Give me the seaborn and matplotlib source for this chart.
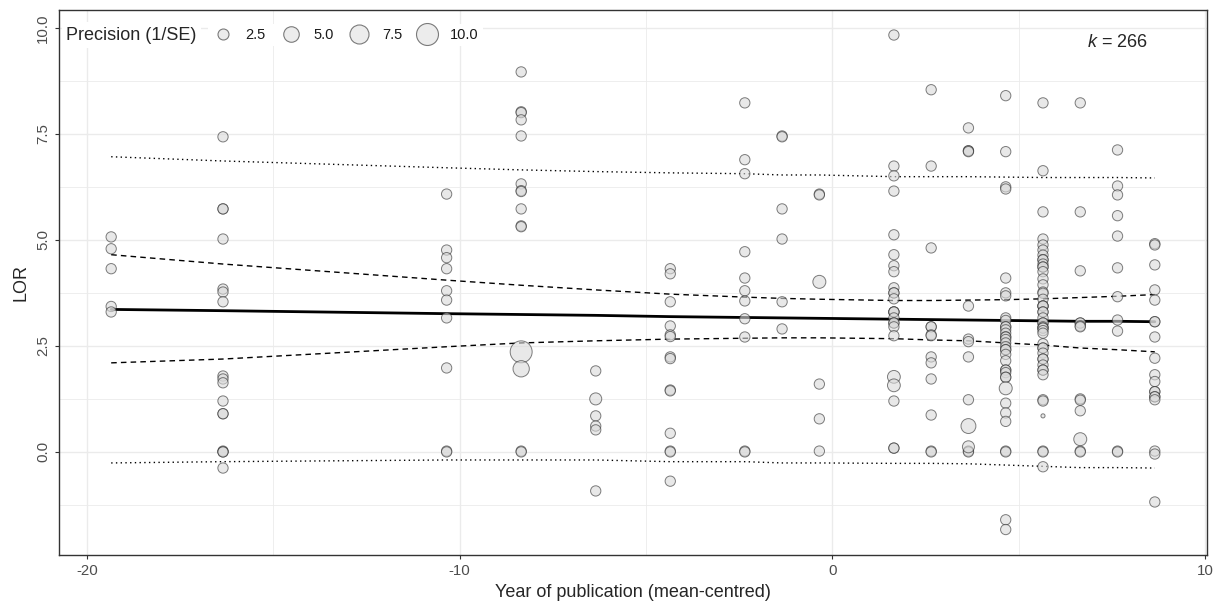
import pandas as pd
import seaborn as sns
import matplotlib.pyplot as plt
from matplotlib.lines import Line2D

# year of publication (mean-centred) of the studies
years = [-19.35, -16.35, -10.35, -8.35, -6.35, -4.35, -2.35, -1.35, -0.35,
         1.65, 2.65, 3.65, 4.65, 5.65, 6.65, 7.65, 8.65]

# LOR of the studies in each year (usual precision)
lor_by_year = [
    [5.07, 4.79, 4.32, 3.43, 3.30],
    [7.43, 5.73, 5.73, 5.02, 3.84, 3.77, 3.54, 1.79, 1.72, 1.63, 1.20, 0.90, 0.90,
     0.02, 0.00, 0.00, -0.38],
    [6.08, 4.76, 4.58, 4.32, 3.80, 3.58, 3.16, 1.98, 0.02, 0.00],
    [8.96, 8.02, 8.00, 7.83, 7.45, 6.32, 6.16, 6.14, 5.73, 5.33, 5.31, 0.02, 0.00],
    [1.91, 0.85, 0.61, 0.52, -0.92],
    [4.32, 4.20, 3.54, 2.97, 2.76, 2.72, 2.24, 2.20, 1.46, 1.44, 0.44, 0.02, 0.00, -0.69],
    [8.23, 6.89, 6.56, 4.72, 4.10, 3.80, 3.56, 3.14, 2.71, 0.02, 0.00],
    [7.45, 7.43, 5.73, 5.02, 3.54, 2.90],
    [6.08, 6.06, 1.60, 0.78, 0.02],
    [9.83, 6.74, 6.51, 6.15, 5.12, 4.65, 4.39, 4.25, 3.87, 3.75, 3.75, 3.61, 3.30,
     3.30, 3.30, 3.16, 3.04, 3.04, 2.95, 2.74, 1.20, 0.09, 0.09],
    [8.54, 6.74, 4.81, 2.95, 2.95, 2.76, 2.74, 2.24, 2.10, 1.72, 0.87, 0.02, 0.00],
    [7.64, 7.10, 7.10, 7.08, 3.44, 2.66, 2.60, 2.24, 1.23, 0.02, 0.00],
    [8.40, 7.08, 6.25, 6.20, 4.10, 3.75, 3.68, 3.16, 3.10, 2.95, 2.95, 2.88, 2.80,
     2.71, 2.71, 2.65, 2.57, 2.48, 2.41, 2.41, 2.30, 2.15, 1.93, 1.93, 1.87, 1.76,
     1.76, 1.15, 0.92, 0.72, 0.02, 0.00, -1.60, -1.83],
    [8.23, 6.63, 5.66, 5.02, 4.88, 4.76, 4.64, 4.53, 4.53, 4.43, 4.36, 4.36, 4.25,
     4.08, 3.94, 3.77, 3.74, 3.60, 3.44, 3.44, 3.44, 3.30, 3.30, 3.16, 3.04, 3.04,
     2.95, 2.92, 2.92, 2.86, 2.80, 2.55, 2.45, 2.45, 2.33, 2.19, 2.19, 2.05, 1.93,
     1.93, 1.82, 1.23, 1.20, 0.02, 0.00, -0.35],
    [8.23, 5.66, 4.27, 3.04, 3.04, 2.97, 2.95, 1.25, 1.22, 0.97, 0.02, 0.00],
    [7.12, 6.27, 6.06, 5.57, 5.09, 4.34, 3.66, 3.11, 2.85, 0.02, 0.00],
    [4.91, 4.88, 4.41, 3.82, 3.58, 3.07, 3.07, 2.71, 2.21, 1.82, 1.66, 1.42, 1.42,
     1.30, 1.30, 1.23, 0.02, -0.05, -1.18],
]
typical_prec = 2.2

# studies drawn with a different precision
sized_year = [-8.35, -8.35, -6.35, -0.35, 1.65, 1.65, 3.65, 3.65, 4.65, 5.65, 6.65]
sized_lor = [2.36, 1.96, 1.25, 4.01, 1.77, 1.57, 0.61, 0.12, 1.50, 0.85, 0.30]
sized_prec = [10.0, 5.5, 3.0, 3.5, 3.4, 3.4, 4.6, 3.0, 3.5, 0.35, 3.5]

# meta-regression fit, confidence and prediction bands at each year
fit_mean = [3.36, 3.33, 3.26, 3.24, 3.22, 3.19, 3.17, 3.16, 3.15,
            3.13, 3.12, 3.11, 3.10, 3.09, 3.08, 3.08, 3.07]
ci_upper = [4.65, 4.43, 4.05, 3.93, 3.82, 3.72, 3.65, 3.62, 3.60,
            3.57, 3.57, 3.58, 3.59, 3.61, 3.64, 3.67, 3.71]
ci_lower = [2.10, 2.19, 2.48, 2.57, 2.62, 2.66, 2.68, 2.69, 2.69,
            2.67, 2.64, 2.62, 2.57, 2.52, 2.45, 2.41, 2.36]
pi_upper = [6.96, 6.86, 6.70, 6.65, 6.61, 6.58, 6.56, 6.53, 6.53,
            6.49, 6.49, 6.49, 6.48, 6.47, 6.47, 6.47, 6.46]
pi_lower = [-0.26, -0.23, -0.19, -0.19, -0.19, -0.23, -0.23, -0.26, -0.26,
            -0.27, -0.27, -0.28, -0.31, -0.34, -0.37, -0.37, -0.38]

size_breaks = [2.5, 5.0, 7.5, 10.0]
k_studies = 266

rows = []
for yr, vals in zip(years, lor_by_year):
    for v in vals:
        rows.append((yr, v, typical_prec))
for yr, v, p in zip(sized_year, sized_lor, sized_prec):
    rows.append((yr, v, p))
df = pd.DataFrame(rows, columns=['year', 'lor', 'prec'])

sns.set_style('ticks')
plt.rcParams['font.family'] = ['Liberation Sans', 'DejaVu Sans']
plt.rcParams['mathtext.fontset'] = 'custom'
plt.rcParams['mathtext.it'] = 'Liberation Sans:italic'
plt.rcParams['mathtext.rm'] = 'Liberation Sans'

fig = plt.figure(figsize=(12.24, 6.06), dpi=100)
ax = fig.add_axes([0.0482, 0.0842, 0.9379, 0.8993])

# bands and fitted line
sns.lineplot(x=years, y=pi_upper, color='black', linewidth=1.0, linestyle=(0, (1, 2.4)), ax=ax)
sns.lineplot(x=years, y=pi_lower, color='black', linewidth=1.0, linestyle=(0, (1, 2.4)), ax=ax)
sns.lineplot(x=years, y=ci_upper, color='black', linewidth=1.0, linestyle=(0, (4, 3)), ax=ax)
sns.lineplot(x=years, y=ci_lower, color='black', linewidth=1.0, linestyle=(0, (4, 3)), ax=ax)
sns.lineplot(x=years, y=fit_mean, color='black', linewidth=2.0, ax=ax)

# studies
sns.scatterplot(data=df, x='year', y='lor', size='prec', sizes=(0, 250), size_norm=(0, 10),
                color='#dadada', edgecolor='#2a2a2a', linewidth=0.7, alpha=0.6,
                legend=False, ax=ax, zorder=3)

ax.set_xlim(-20.75, 10.05)
ax.set_ylim(-2.43, 10.42)
ax.set_xticks([-20, -10, 0, 10])
ax.set_xticklabels(['-20', '-10', '0', '10'])
ax.set_xticks([-15, -5, 5], minor=True)
ax.set_yticks([0, 2.5, 5, 7.5, 10])
ax.set_yticklabels(['0.0', '2.5', '5.0', '7.5', '10.0'])
ax.set_yticks([-1.25, 1.25, 3.75, 6.25, 8.75], minor=True)
ax.grid(which='major', color='#ebebeb', linewidth=1.0, zorder=0)
ax.grid(which='minor', color='#ebebeb', linewidth=0.6, zorder=0)
ax.set_axisbelow(True)

for sp in ax.spines.values():
    sp.set_visible(True)
    sp.set_color('#333333')
    sp.set_linewidth(1.0)
ax.tick_params(which='major', length=3, width=0.8, color='#333333',
               labelsize=10.8, labelcolor='#4d4d4d', pad=3.5)
ax.tick_params(which='minor', length=0)
ax.tick_params(axis='y', labelrotation=90)
for lab in ax.get_yticklabels():
    lab.set_verticalalignment('center')

ax.set_xlabel('Year of publication (mean-centred)', fontsize=13, labelpad=4)
ax.set_ylabel('LOR', fontsize=13, labelpad=5)

# precision legend, laid out horizontally
handles = [Line2D([], [], linestyle='none', marker='o', markersize=5 * p ** 0.5,
                  markerfacecolor='#ececec', markeredgecolor='#7a7a7a', markeredgewidth=0.8)
           for p in size_breaks]
leg = ax.legend(handles, [f'{p:.1f}' for p in size_breaks], ncol=4, loc='center left',
                bbox_to_anchor=(208 / 1224, 1 - 35 / 606), bbox_transform=fig.transFigure,
                borderaxespad=0, fontsize=10.5, handlelength=1.4, handletextpad=0.88,
                columnspacing=1.0, frameon=True, framealpha=1, facecolor='white',
                edgecolor='none', borderpad=0.3)
for t in leg.get_texts():
    t.set_color('#1a1a1a')
fig.text(66 / 1224, 1 - 35 / 606, 'Precision (1/SE)', fontsize=13, ha='left', va='center',
         bbox=dict(facecolor='white', edgecolor='none', pad=3))

ax.text(7.65, 9.65, r'$k$ = 266'.replace('266', str(k_studies)), fontsize=13,
        ha='center', va='center')

fig.savefig('out.png', dpi=100)
